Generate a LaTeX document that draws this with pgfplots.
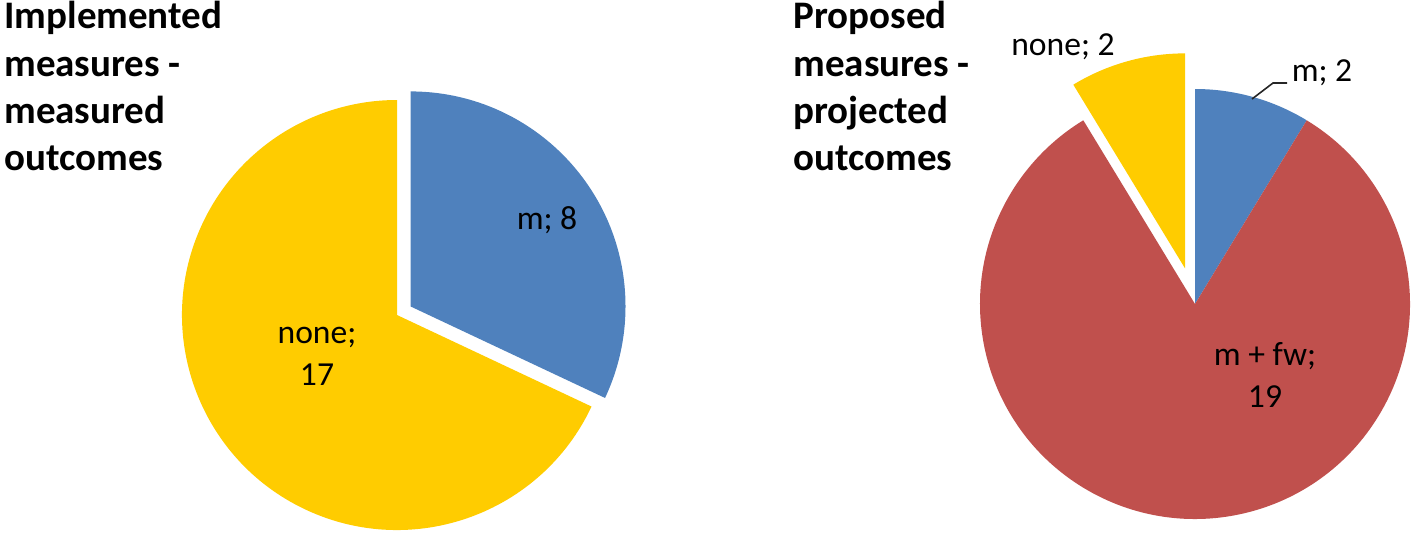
\documentclass[border=0pt]{standalone}
\usepackage{pgfplots}
\pgfplotsset{compat=1.18}
\usepackage{pgfplotstable}
\usepackage{fontspec}
\setmainfont{Carlito}

\definecolor{pieblue}{HTML}{4F81BD}
\definecolor{piered}{HTML}{C0504D}
\definecolor{pieyellow}{HTML}{FFCC00}

% one row per slice, clockwise from 12 o'clock; explode in px
\pgfplotstableread{
cat  value explode
m    8     16
none 17    0
}\implemented
\pgfplotstableread{
cat  value explode
m    2     0
mfw  19    0
none 2     37
}\proposed

% 1 px of the reference = 0.5pt
\def\R{107.5}% radius in pt (215 px)

% #1 table, #2 row, #3 total, #4 start angle, #5 colour, #6 cx, #7 cy
\newcommand\pieslice[7]{%
  \pgfplotstablegetelem{#2}{value}\of#1\let\val\pgfplotsretval
  \pgfplotstablegetelem{#2}{explode}\of#1\let\ex\pgfplotsretval
  \pgfmathsetmacro\endA{#4-360*\val/#3}%
  \pgfmathsetmacro\midA{(#4+\endA)/2}%
  \pgfmathsetmacro\vx{#6+\ex*cos(\midA)}%
  \pgfmathsetmacro\vy{#7+\ex*sin(\midA)}%
  \edef\temp{\noexpand\fill[#5] (axis cs:\vx,\vy) -- ++(#4:\R pt)
    arc[start angle=#4, end angle=\endA, radius=\R pt] -- cycle;}%
  \temp
  \global\let\lastend\endA
}

\begin{document}
\begin{tikzpicture}
\begin{axis}[
    x=0.5pt, y=0.5pt,
    xmin=0, xmax=1418, ymin=0, ymax=537,
    hide axis,
    clip=false
]
\coordinate (ll) at (axis cs:0,0);
\coordinate (ur) at (axis cs:1418,537);
% left pie: implemented measures
\pieslice{\implemented}{0}{25}{90}{pieblue}{397}{222}
\pieslice{\implemented}{1}{25}{\lastend}{pieyellow}{397}{222}
% right pie: proposed measures
\pieslice{\proposed}{0}{23}{90}{pieblue}{1195}{233}
\pieslice{\proposed}{1}{23}{\lastend}{piered}{1195}{233}
\pieslice{\proposed}{2}{23}{\lastend}{pieyellow}{1195}{233}

% titles
\begin{scope}[every node/.style={anchor=base west, inner sep=0pt,
    font=\fontsize{19.5}{22}\selectfont\bfseries}]
\node at (axis cs:4,509) {Implemented};
\node at (axis cs:4,460) {measures -};
\node at (axis cs:4,414) {measured};
\node at (axis cs:4,367) {outcomes};
\node at (axis cs:793,509) {Proposed};
\node at (axis cs:793,460) {measures -};
\node at (axis cs:793,414) {projected};
\node at (axis cs:793,367) {outcomes};
\end{scope}

% data labels
\begin{scope}[every node/.style={inner sep=0pt, align=center,
    font=\fontsize{16.8}{21}\selectfont}]
\node at (axis cs:547,317) {m; 8};
\node at (axis cs:317,181) {none;\\17};
\node at (axis cs:1265,162) {m + fw;\\19};
\node at (axis cs:1063,490) {none; 2};
\node at (axis cs:1322,464) {m; 2};
\end{scope}
\draw[black!85, line width=0.8pt] (axis cs:1252,438) -- (axis cs:1273,454) -- (axis cs:1287,454);
\end{axis}
\pgfresetboundingbox
\path[use as bounding box] (ll) rectangle (ur);
\end{tikzpicture}
\end{document}
